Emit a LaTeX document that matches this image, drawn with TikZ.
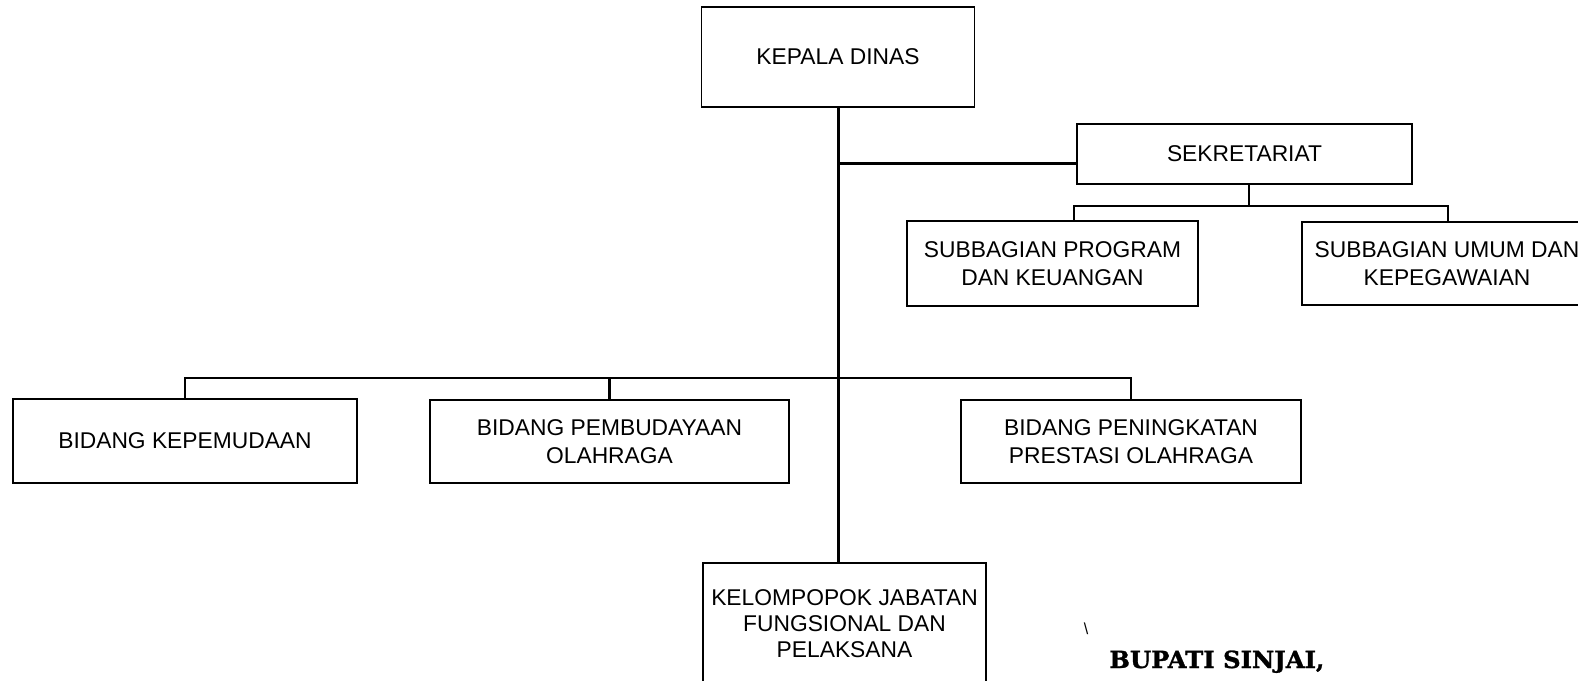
\documentclass[tikz,border=0pt]{standalone}
\usepackage{fontspec}
\setmainfont{Liberation Sans}
\newfontfamily\signfont[FakeStretch=1.03,FakeBold=1.2]{DejaVu Serif}
\usetikzlibrary{positioning}

\begin{document}
\begin{tikzpicture}[
    x=0.5pt, y=-0.5pt,
    unitbox/.style={rectangle, draw=black, line width=1.1pt, align=center, inner sep=2pt, font=\fontsize{11.4}{14}\selectfont},
    headbox/.style={unitbox, line width=0.7pt},
    sekbox/.style={unitbox, line width=1.3pt},
    link/.style={line width=1.5pt},
    sublink/.style={line width=1pt}
]

\useasboundingbox (0,0) rectangle (1578,680);
\fill[white] (0,0) rectangle (1578,680);
\clip (0,0) rectangle (1578,680);

% Head
\node[headbox, minimum width=136.5pt, minimum height=50pt] (kepala) at (838,57) {KEPALA DINAS};

% Secretariat
\node[sekbox, minimum width=167.5pt, minimum height=30pt] (sekretariat) at (1244.5,154) {SEKRETARIAT};
\node[unitbox, minimum width=145.5pt, minimum height=42.5pt] (subprog) at (1052.5,263.5) {SUBBAGIAN PROGRAM\\DAN KEUANGAN};
\node[unitbox, minimum width=145pt, minimum height=41.5pt] (subumum) at (1447,263.5) {SUBBAGIAN UMUM DAN\\KEPEGAWAIAN};

% Fields
\node[unitbox, minimum width=172pt, minimum height=42pt] (kepemudaan) at (185,441) {BIDANG KEPEMUDAAN};
\node[unitbox, minimum width=179.5pt, minimum height=41.5pt] (pembudayaan) at (609.5,441.5) {BIDANG PEMBUDAYAAN\\OLAHRAGA};
\node[unitbox, minimum width=170pt, minimum height=41.5pt] (peningkatan) at (1131,441.5) {BIDANG PENINGKATAN\\PRESTASI OLAHRAGA};

% Functional group
\node[unitbox, line width=0.9pt, minimum width=141.5pt, minimum height=61pt, font=\fontsize{11.4}{13}\selectfont] (kelompok) at (844.5,624) {KELOMPOPOK JABATAN\\FUNGSIONAL DAN\\PELAKSANA};

% Signature
\node[font=\fontsize{8}{8}\selectfont] (mark) at (1086,629) {\textbackslash};
\node[anchor=base west, inner sep=0pt, font=\signfont\bfseries\fontsize{11.8}{12}\selectfont] (bupati) at (1109,668) {BUPATI SINJAI,};

% Joints
\coordinate (sekjoin) at (838,163);
\coordinate (bar) at (838,378);
\coordinate (subL) at (1074,206);
\coordinate (subR) at (1448,206);
\coordinate (subM) at (1249,206);

% Lines
\draw[link] (kepala.south) -- (kepala.south |- kelompok.north);
\draw[link] (sekjoin) -- (sekjoin -| sekretariat.west);
\draw[sublink] (subM |- sekretariat.south) -- (subM);
\draw[sublink] (subL |- subprog.north) -- (subL) -- (subR) -- (subR |- subumum.north);
\draw[line width=1.2pt] (kepemudaan.north) |- (bar) -| (peningkatan.north);
\draw[line width=1.2pt] (pembudayaan.north) -- (pembudayaan.north |- bar);

\end{tikzpicture}
\end{document}
